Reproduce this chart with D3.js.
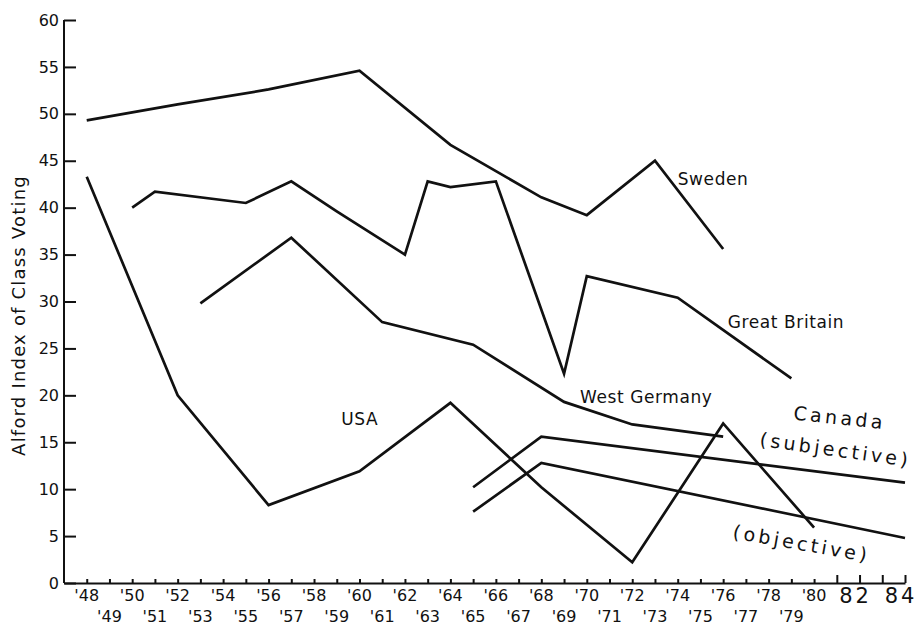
<!DOCTYPE html>
<html>
<head>
<meta charset="utf-8">
<script src="https://cdn.jsdelivr.net/npm/d3@7"></script>
<style>
  body { margin: 0; background: #fff; }
  svg { display: block; }
  .axis path, .axis line { stroke: #111; stroke-width: 2; }
  .axis text { font-family: "DejaVu Sans", sans-serif; font-size: 16px; fill: #111; }
  .lbl { font-family: "DejaVu Sans", sans-serif; font-size: 17px; fill: #111; letter-spacing: 0.6px; }
  .tick-lbl { font-family: "DejaVu Sans", sans-serif; font-size: 16px; fill: #111; }
  .typed { font-family: "DejaVu Sans", sans-serif; font-size: 19px; fill: #111; letter-spacing: 3.4px; }
</style>
</head>
<body>
<div id="chart"></div>
<script>
// Alford index of class voting: [year (19xx), index]
const sweden = [[48, 49.3], [52, 51.0], [56, 52.6], [60, 54.6], [64, 46.7], [68, 41.1], [70, 39.2], [73, 45.0], [76, 35.6]];
const greatBritain = [[50, 40.0], [51, 41.7], [55, 40.5], [57, 42.8], [59, 39.6], [62, 35.0], [63, 42.8], [64, 42.2], [66, 42.8], [69, 22.3], [70, 32.7], [74, 30.4], [79, 21.8]];
const westGermany = [[53, 29.8], [57, 36.8], [61, 27.8], [65, 25.4], [69, 19.3], [72, 16.9], [76, 15.6]];
const usa = [[48, 43.3], [52, 20.0], [56, 8.3], [60, 11.9], [64, 19.2], [68, 10.2], [72, 2.2], [76, 17.0], [80, 5.9]];
const canadaSubjective = [[65, 10.2], [68, 15.6], [84, 10.7]];
const canadaObjective = [[65, 7.6], [68, 12.8], [84, 4.8]];

// Tick labels
const yTicks = [0, 5, 10, 15, 20, 25, 30, 35, 40, 45, 50, 55, 60];
const evenYears = [48, 50, 52, 54, 56, 58, 60, 62, 64, 66, 68, 70, 72, 74, 76, 78, 80];
const oddYears = [49, 51, 53, 55, 57, 59, 61, 63, 65, 67, 69, 71, 73, 75, 77, 79];
const lateYears = [82, 84];

const W = 921, H = 625;

const svg = d3.select("#chart").append("svg")
    .attr("width", W)
    .attr("height", H);

// Scales (fitted to the scan)
const x = d3.scaleLinear().domain([47, 84]).range([64, 905]);
const y = d3.scaleLinear().domain([0, 60]).range([583, 20]);

// Y axis, ticks pointing into the plot
svg.append("g")
    .attr("class", "axis")
    .attr("transform", `translate(${x(47)},0)`)
    .call(d3.axisLeft(y).tickValues(yTicks).tickSizeInner(-12).tickSizeOuter(0).tickPadding(5))
    .call(g => g.select(".domain").attr("d", `M0,${y(60)}V${y(0)}`));

// X axis, small marks only, labels drawn below in two rows
const xAxis = svg.append("g")
    .attr("class", "axis")
    .attr("transform", `translate(0,${y(0)})`)
    .call(d3.axisBottom(x).tickValues(d3.range(48, 85)).tickSizeInner(-4).tickSizeOuter(0).tickFormat(""));
xAxis.selectAll(".tick line")
    .attr("stroke-width", 1.3)
    .attr("y2", d => d >= 81 ? -8 : -4);

svg.selectAll(".even")
    .data(evenYears)
    .join("text")
    .attr("class", "tick-lbl")
    .attr("x", d => x(d))
    .attr("y", y(0) + 18)
    .attr("text-anchor", "middle")
    .text(d => "'" + d);

svg.selectAll(".odd")
    .data(oddYears)
    .join("text")
    .attr("class", "tick-lbl")
    .attr("x", d => x(d))
    .attr("y", y(0) + 39)
    .attr("text-anchor", "middle")
    .text(d => "'" + d);

svg.selectAll(".late")
    .data(lateYears)
    .join("text")
    .attr("class", "tick-lbl")
    .attr("x", d => x(d) - 4)
    .attr("y", y(0) + 20)
    .attr("text-anchor", "middle")
    .style("font-size", "21px")
    .style("letter-spacing", "3px")
    .text(d => d);

// Y axis title
svg.append("text")
    .attr("class", "lbl")
    .attr("transform", `translate(25,${(y(0) + y(60)) / 2 + 14}) rotate(-90)`)
    .attr("text-anchor", "middle")
    .style("font-size", "18px")
    .style("letter-spacing", "1.2px")
    .text("Alford Index of Class Voting");

// Country lines
const line = d3.line()
    .x(d => x(d[0]))
    .y(d => y(d[1]));

const series = [sweden, greatBritain, westGermany, usa, canadaSubjective, canadaObjective];
svg.append("g")
    .selectAll("path")
    .data(series)
    .join("path")
    .attr("d", line)
    .attr("fill", "none")
    .attr("stroke", "#111")
    .attr("stroke-width", 2.7)
    .attr("stroke-linejoin", "miter");

// Line labels
const labels = [
    { text: "Sweden", yr: 74.0, v: 42.4, cls: "lbl", rot: 0, anchor: "start" },
    { text: "Great Britain", yr: 76.2, v: 27.2, cls: "lbl", rot: 0, anchor: "start" },
    { text: "West Germany", yr: 69.7, v: 19.2, cls: "lbl", rot: 0, anchor: "start" },
    { text: "USA", yr: 59.2, v: 16.8, cls: "lbl", rot: 0, anchor: "start" },
    { text: "Canada", yr: 81.1, v: 16.9, cls: "typed", rot: 6, anchor: "middle" },
    { text: "(subjective)", yr: 80.9, v: 13.5, cls: "typed", rot: 8, anchor: "middle" },
    { text: "(objective)", yr: 79.4, v: 3.5, cls: "typed", rot: 10, anchor: "middle" }
];
svg.selectAll(".country")
    .data(labels)
    .join("text")
    .attr("class", d => d.cls)
    .attr("text-anchor", d => d.anchor)
    .attr("transform", d => `translate(${x(d.yr)},${y(d.v)}) rotate(${d.rot})`)
    .text(d => d.text);
</script>
</body>
</html>
